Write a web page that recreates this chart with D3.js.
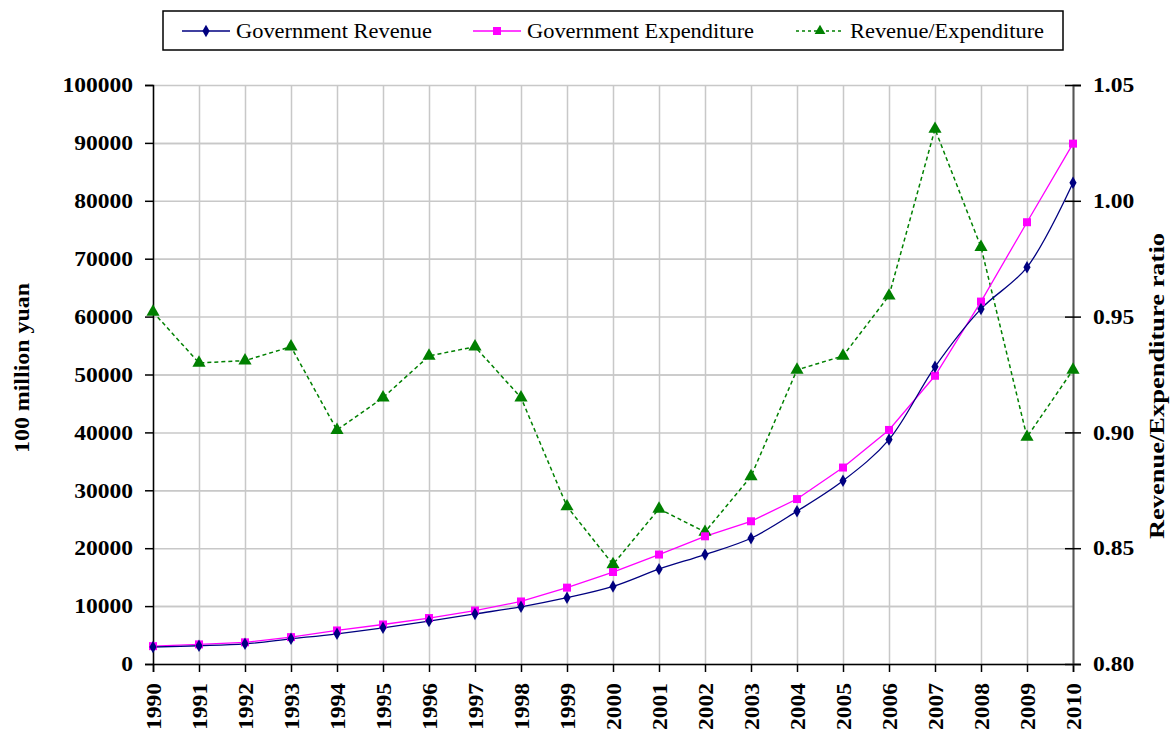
<!DOCTYPE html>
<html>
<head>
<meta charset="utf-8">
<style>
body { margin: 0; background: #fff; }
text { font-family: "Liberation Serif", "Times New Roman", serif; }
.tick text { font-weight: bold; font-size: 21px; fill: #000; font-family: "Liberation Serif", serif; }
.grid line { stroke: #c8c8c8; stroke-width: 1.5; }
.grid path { display: none; }
</style>
</head>
<body>
<svg width="1171" height="731"></svg>
<script src="https://cdn.jsdelivr.net/npm/d3@7"></script>
<script>
var years = [1990, 1991, 1992, 1993, 1994, 1995, 1996, 1997, 1998, 1999, 2000,
             2001, 2002, 2003, 2004, 2005, 2006, 2007, 2008, 2009, 2010];
var revenue = [2937, 3149, 3483, 4349, 5218, 6242, 7408, 8651, 9876, 11444, 13395,
               16386, 18904, 21715, 26396, 31649, 38760, 51322, 61330, 68518, 83102];
var expenditure = [3084, 3387, 3742, 4642, 5793, 6824, 7938, 9234, 10798, 13188, 15887,
                   18903, 22053, 24650, 28487, 33930, 40423, 49781, 62593, 76300, 89874];
var ratio = [0.952, 0.930, 0.931, 0.937, 0.901, 0.915, 0.933, 0.937, 0.915, 0.868, 0.843,
             0.867, 0.857, 0.881, 0.927, 0.933, 0.959, 1.031, 0.980, 0.898, 0.927];
var leftTicks = [0, 10000, 20000, 30000, 40000, 50000, 60000, 70000, 80000, 90000, 100000];
var rightTicks = [0.80, 0.85, 0.90, 0.95, 1.00, 1.05];
var seriesNames = ["Government Revenue", "Government Expenditure", "Revenue/Expenditure"];

var svg = d3.select("svg"),
    margin = {top: 85, right: 98, bottom: 67, left: 153},
    width = 1171 - margin.left - margin.right,
    height = 731 - margin.top - margin.bottom,
    g = svg.append("g").attr("transform", "translate(" + margin.left + "," + margin.top + ")");

var x = d3.scaleLinear().domain([1990, 2010]).range([0, width]);
var y = d3.scaleLinear().domain([0, 100000]).range([height, 0]);
var y2 = d3.scaleLinear().domain([0.80, 1.05]).range([height, 0]);

// the original lettering is a bit wider than the font, stretch it
function widen(sel, f) {
  sel.each(function() {
    var n = this.getComputedTextLength();
    d3.select(this).attr("textLength", n * f).attr("lengthAdjust", "spacingAndGlyphs");
  });
}

// gridlines
g.append("g").attr("class", "grid")
    .call(d3.axisLeft(y).tickValues(leftTicks).tickSize(-width).tickFormat(""));
g.append("g").attr("class", "grid")
    .attr("transform", "translate(0," + height + ")")
    .call(d3.axisBottom(x).tickValues(years).tickSize(-height).tickFormat(""));
g.append("g").attr("class", "grid")
    .call(d3.axisLeft(y2).tickValues(d3.range(0.825, 1.05, 0.05)).tickSize(-width).tickFormat(""));

// axes
var ax = g.append("g")
    .attr("transform", "translate(0," + height + ")")
    .call(d3.axisBottom(x).tickValues(years).tickSize(8).tickFormat(d3.format("d")));
ax.selectAll("text")
    .attr("transform", "rotate(-90)")
    .attr("x", -19).attr("y", 0).attr("dy", "0.35em")
    .attr("text-anchor", "end");

var ay = g.append("g")
    .call(d3.axisLeft(y).tickValues(leftTicks).tickSize(8).tickFormat(d3.format("d")));
ay.selectAll("text").attr("x", -20);

var ay2 = g.append("g")
    .attr("transform", "translate(" + width + ",0)")
    .call(d3.axisRight(y2).tickValues(rightTicks).tickSize(8).tickFormat(d3.format(".2f")));
ay2.selectAll("text").attr("x", 20);
ay2.select(".domain").attr("stroke", "#555").attr("stroke-width", 2);
ay2.selectAll(".tick line").attr("x1", -8);
[ax, ay, ay2].forEach(function(a) {
  a.selectAll(".tick line").attr("stroke", "#000").attr("stroke-width", 1.5);
  widen(a.selectAll(".tick text"), 1.12);
});
ax.select(".domain").attr("stroke-width", 1.5);
ay.select(".domain").attr("stroke-width", 1.5);

// axis titles
svg.append("text")
    .attr("transform", "translate(29," + 368 + ") rotate(-90)")
    .attr("text-anchor", "middle")
    .style("font-weight", "bold").style("font-size", "21px")
    .attr("textLength", 170).attr("lengthAdjust", "spacingAndGlyphs")
    .text("100 million yuan");
svg.append("text")
    .attr("transform", "translate(1164," + 386 + ") rotate(-90)")
    .attr("text-anchor", "middle")
    .style("font-weight", "bold").style("font-size", "21px")
    .attr("textLength", 306).attr("lengthAdjust", "spacingAndGlyphs")
    .text("Revenue/Expenditure ratio");

// lines
var revLine = d3.line().curve(d3.curveCatmullRom)
    .x(function(d, i) { return x(years[i]); }).y(function(d) { return y(d); });
var expLine = d3.line()
    .x(function(d, i) { return x(years[i]); }).y(function(d) { return y(d); });
var ratLine = d3.line()
    .x(function(d, i) { return x(years[i]); }).y(function(d) { return y2(d); });

g.append("path").datum(ratio).attr("d", ratLine)
    .attr("fill", "none").attr("stroke", "#008000").attr("stroke-width", 1.5)
    .attr("stroke-dasharray", "4,3");
g.append("path").datum(expenditure).attr("d", expLine)
    .attr("fill", "none").attr("stroke", "#ff00ff").attr("stroke-width", 1.3);
g.append("path").datum(revenue).attr("d", revLine)
    .attr("fill", "none").attr("stroke", "#000080").attr("stroke-width", 1.3);

var tri = d3.symbol().type(d3.symbolTriangle).size(75);
var sq = d3.symbol().type(d3.symbolSquare).size(64);
var dia = d3.symbol().type(d3.symbolDiamond).size(45);

g.selectAll(".tri").data(ratio).enter().append("path")
    .attr("d", tri).attr("fill", "#008000")
    .attr("transform", function(d, i) { return "translate(" + x(years[i]) + "," + y2(d) + ")"; });
g.selectAll(".sq").data(expenditure).enter().append("path")
    .attr("d", sq).attr("fill", "#ff00ff")
    .attr("transform", function(d, i) { return "translate(" + x(years[i]) + "," + y(d) + ")"; });
g.selectAll(".dia").data(revenue).enter().append("path")
    .attr("d", dia).attr("fill", "#000080")
    .attr("transform", function(d, i) { return "translate(" + x(years[i]) + "," + y(d) + ")"; });

// legend
var legend = svg.append("g");
legend.append("rect")
    .attr("x", 163).attr("y", 11).attr("width", 900).attr("height", 39)
    .attr("fill", "#fff").attr("stroke", "#000").attr("stroke-width", 1.5);
var legX = [182, 473, 796];
var legColors = ["#000080", "#ff00ff", "#008000"];
var legSym = [dia, sq, d3.symbol().type(d3.symbolTriangle).size(50)];
seriesNames.forEach(function(name, i) {
  var item = legend.append("g").attr("transform", "translate(" + legX[i] + ",31)");
  item.append("line").attr("x1", 0).attr("x2", 48)
      .attr("stroke", legColors[i]).attr("stroke-width", 1.3)
      .attr("stroke-dasharray", i === 2 ? "3,3" : null);
  item.append("path").attr("d", legSym[i]).attr("fill", legColors[i])
      .attr("transform", "translate(24,0)");
  item.append("text").attr("x", 54).attr("dy", "0.35em")
      .style("font-size", "20px").text(name);
});
widen(legend.selectAll("text"), 1.12);
</script>
</body>
</html>
